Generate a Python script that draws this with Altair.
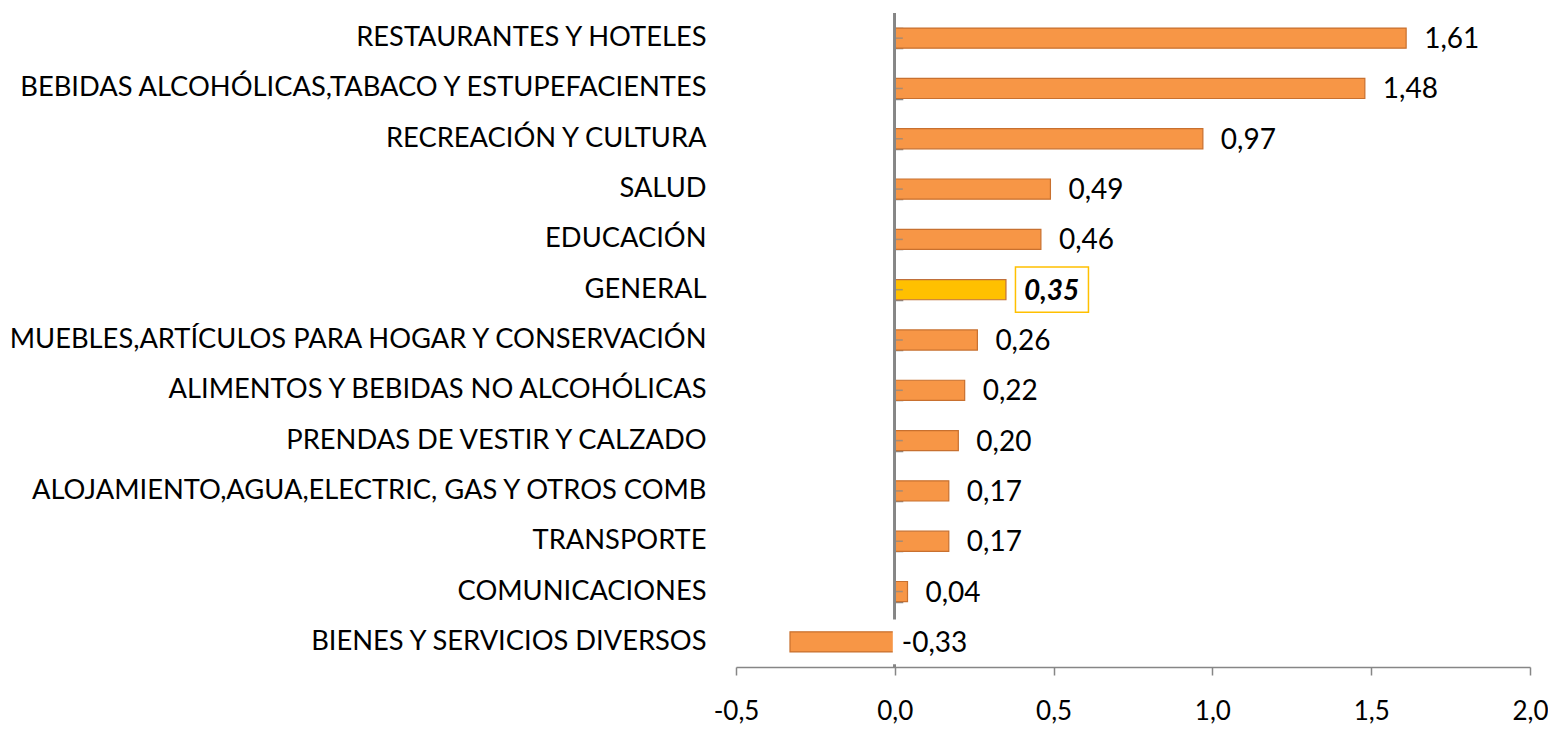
import altair as alt
import pandas as pd

categories = [
    "RESTAURANTES Y HOTELES",
    "BEBIDAS ALCOHÓLICAS,TABACO Y ESTUPEFACIENTES",
    "RECREACIÓN Y CULTURA",
    "SALUD",
    "EDUCACIÓN",
    "GENERAL",
    "MUEBLES,ARTÍCULOS PARA HOGAR Y CONSERVACIÓN",
    "ALIMENTOS Y BEBIDAS NO ALCOHÓLICAS",
    "PRENDAS DE VESTIR Y CALZADO",
    "ALOJAMIENTO,AGUA,ELECTRIC, GAS Y OTROS COMB",
    "TRANSPORTE",
    "COMUNICACIONES",
    "BIENES Y SERVICIOS DIVERSOS",
]
values = [1.61, 1.48, 0.97, 0.49, 0.46, 0.35, 0.26, 0.22, 0.20, 0.17, 0.17, 0.04, -0.33]
highlight = "GENERAL"
x_ticks = [-0.5, 0.0, 0.5, 1.0, 1.5, 2.0]

df = pd.DataFrame({"cat": categories, "val": values})
df["kind"] = ["hl" if c == highlight else "n" for c in categories]

FONT = "Lato"
GREY = "#868686"
W, H = 794, 654
X_MIN, X_MAX = -0.5, 2.0
ZERO_PX = W * (0 - X_MIN) / (X_MAX - X_MIN)

xscale = alt.Scale(domain=[X_MIN, X_MAX], nice=False, zero=False)
yscale = alt.Scale(domain=categories, paddingInner=0.6, paddingOuter=0.3)

base = alt.Chart(df).transform_calculate(
    lx="max(datum.val, 0)",
    lbl="replace(replace(format(datum.val, '.2f'), '.', ','), '\u2212', '-')",
)

Y_NOAXIS = alt.Y("cat:N", sort=categories, scale=yscale, axis=None)
X_LX = alt.X("lx:Q", scale=xscale)

bars = base.mark_bar(strokeWidth=1.2).encode(
    y=alt.Y(
        "cat:N", sort=categories, scale=yscale,
        axis=alt.Axis(title=None, domain=False, ticks=False, labelPadding=30,
                      labelFontSize=27.3, labelFont=FONT, labelColor="black",
                      labelLimit=1000, orient="left"),
    ),
    x=alt.X(
        "val:Q", scale=xscale,
        axis=alt.Axis(title=None, grid=False, values=x_ticks,
                      labelExpr="replace(replace(format(datum.value, '.1f'), '.', ','), '\u2212', '-')",
                      domainColor=GREY, domainWidth=1.5, tickColor=GREY, tickWidth=1.5,
                      tickSize=8, labelPadding=23, labelFontSize=26, labelFont=FONT,
                      labelColor="black", labelFlush=False),
    ),
    fill=alt.Fill("kind:N", scale=alt.Scale(domain=["n", "hl"], range=["#F79646", "#FFC000"]), legend=None),
    stroke=alt.Stroke("kind:N", scale=alt.Scale(domain=["n", "hl"], range=["#C8702F", "#C0703A"]), legend=None),
)

zero_line = base.mark_rule(color=GREY, strokeWidth=2).encode(x=alt.datum(0))

center_ticks = base.mark_tick(orient="horizontal", size=8, thickness=1.5, color=GREY, xOffset=4).encode(
    x=alt.datum(0),
    y=alt.Y("cat:N", sort=categories, scale=yscale,
            axis=alt.Axis(orient="right", offset=-(W - ZERO_PX), labels=False, title=None,
                          domain=False, ticks=True, tickBand="extent", tickSize=8,
                          tickColor=GREY, tickWidth=1.5, grid=False)),
)

box_shape = "M-1,-0.62H1V0.62H-1Z"
pos = base.transform_filter("datum.val >= 0")
neg = base.transform_filter("datum.val < 0")

boxes_n = pos.transform_filter(f"datum.cat != '{highlight}'").mark_point(
    shape=box_shape, size=5184, filled=True, fill="white", opacity=1, xOffset=46, strokeWidth=0
).encode(x=X_LX, y=Y_NOAXIS)
boxes_h = pos.transform_filter(f"datum.cat == '{highlight}'").mark_point(
    shape=box_shape, size=5329, filled=False, fill="white", opacity=1, xOffset=46,
    stroke="#FFC000", strokeWidth=1.5, strokeOpacity=1, fillOpacity=1
).encode(x=X_LX, y=Y_NOAXIS)
boxes_neg = neg.mark_point(
    shape=box_shape, size=5184, filled=True, fill="white", opacity=1, xOffset=34, strokeWidth=0
).encode(x=X_LX, y=Y_NOAXIS)

txt_n = pos.transform_filter(f"datum.cat != '{highlight}'").mark_text(
    align="left", baseline="middle", dx=18, dy=2, fontSize=28, font=FONT, color="black"
).encode(x=X_LX, y=Y_NOAXIS, text="lbl:N")
txt_h = pos.transform_filter(f"datum.cat == '{highlight}'").mark_text(
    align="left", baseline="middle", dx=18, dy=2, fontSize=28, font=FONT, color="black",
    fontWeight="bold", fontStyle="italic"
).encode(x=X_LX, y=Y_NOAXIS, text="lbl:N")
txt_neg = neg.mark_text(
    align="left", baseline="middle", dx=7, dy=2, fontSize=28, font=FONT, color="black"
).encode(x=X_LX, y=Y_NOAXIS, text="lbl:N")

chart = alt.layer(
    bars, center_ticks, zero_line, boxes_n, boxes_h, boxes_neg, txt_n, txt_h, txt_neg
).resolve_axis(y="independent").properties(
    width=W, height=H,
    background="white",
    autosize=alt.AutoSizeParams(type="none"),
    padding={"left": 728, "top": 5, "right": 18, "bottom": 57},
).configure_view(strokeWidth=0, stroke="transparent")

chart.save("out.html", embed_options={"renderer": "svg", "actions": False})
